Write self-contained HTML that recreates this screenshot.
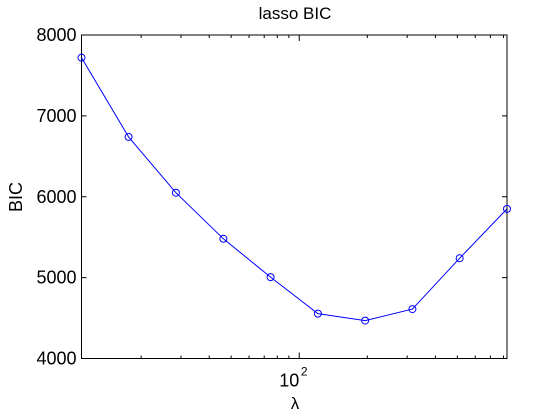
<!DOCTYPE html>
<html><head><meta charset="utf-8"><style>
html,body{margin:0;padding:0;background:#fff;}
svg{display:block;font-family:"Liberation Sans",Helvetica,sans-serif;}
</style></head><body>
<svg id="chart" width="559" height="419" viewBox="0 0 559 419" xmlns="http://www.w3.org/2000/svg">
<rect width="559" height="419" fill="#fff"/>
<text x="295" y="19" font-size="17" text-anchor="middle">lasso BIC</text>
<text x="0" y="0" font-size="18" text-anchor="middle" transform="translate(22,197) rotate(-90)">BIC</text>
<text x="295" y="409" font-size="17" text-anchor="middle">λ</text>
<g id="axes"></g>
<g id="series"></g>
</svg>
<script>
const lambdas = [10.9, 17.6, 28.5, 46.2, 74.7, 120.9, 195.6, 316.5, 512, 829];
const bicValues = [7720, 6740, 6050, 5480, 5006, 4555, 4469, 4611, 5240, 5850];
const yTicks = [4000, 5000, 6000, 7000, 8000];
const yTickLabels = ["4000", "5000", "6000", "7000", "8000"];
const xMajor = [100];
const xMinor = [20,30,40,50,60,70,80,90,200,300,400,500,600,700,800];

const L=81.5, R=507, T=35, B=358.5;
const xmin=10.9, xmax=829, ymin=4000, ymax=8000;
const xs = v => L + (Math.log10(v)-Math.log10(xmin))/(Math.log10(xmax)-Math.log10(xmin))*(R-L);
const ys = v => B - (v-ymin)/(ymax-ymin)*(B-T);
const NS="http://www.w3.org/2000/svg";
function mk(tag, attrs, parent){const e=document.createElementNS(NS,tag);for(const k in attrs)e.setAttribute(k,attrs[k]);parent.appendChild(e);return e;}
const ax=document.getElementById('axes'), se=document.getElementById('series');

const frame = mk('rect',{x:L,y:T,width:R-L,height:B-T,fill:'none',stroke:'#000','stroke-width':1},ax);



yTicks.forEach((v,i)=>{
  const y=ys(v);
  const t1=mk('line',{x1:L,x2:L+5,y1:y,y2:y,stroke:'#000'},ax);
  
  
  const t2=mk('line',{x1:R,x2:R-5,y1:y,y2:y,stroke:'#000'},ax);
  
  
  const tx=mk('text',{x:L-5,y:y+6,'font-size':18,'text-anchor':'end'},ax);
  tx.textContent=yTickLabels[i];
  
  
});
xMajor.forEach(v=>{
  const x=xs(v);
  const a=mk('line',{x1:x,x2:x,y1:B,y2:B-6,stroke:'#000'},ax);
  
  
  const b=mk('line',{x1:x,x2:x,y1:T,y2:T+6,stroke:'#000'},ax);
  
  
  const tx=mk('text',{x:x-10,y:B+28,'font-size':18,'text-anchor':'middle'},ax);
  tx.textContent='10';
  
  
  const sup=mk('text',{x:x+5,y:B+17,'font-size':12,'text-anchor':'middle'},ax);
  sup.textContent='2';
  
  
});
xMinor.forEach(v=>{
  const x=xs(v);
  const a=mk('line',{x1:x,x2:x,y1:B,y2:B-3,stroke:'#000'},ax);
  
  
  const b=mk('line',{x1:x,x2:x,y1:T,y2:T+3,stroke:'#000'},ax);
  
  
});

const pts=lambdas.map((l,i)=>xs(l)+','+ys(bicValues[i])).join(' ');
const line=mk('polyline',{points:pts,fill:'none',stroke:'#0000ff','stroke-width':1},se);


lambdas.forEach((l,i)=>{
  const c=mk('circle',{cx:xs(l),cy:ys(bicValues[i]),r:3.5,fill:'none',stroke:'#0000ff','stroke-width':1},se);
  
  
});
</script>
</body></html>
